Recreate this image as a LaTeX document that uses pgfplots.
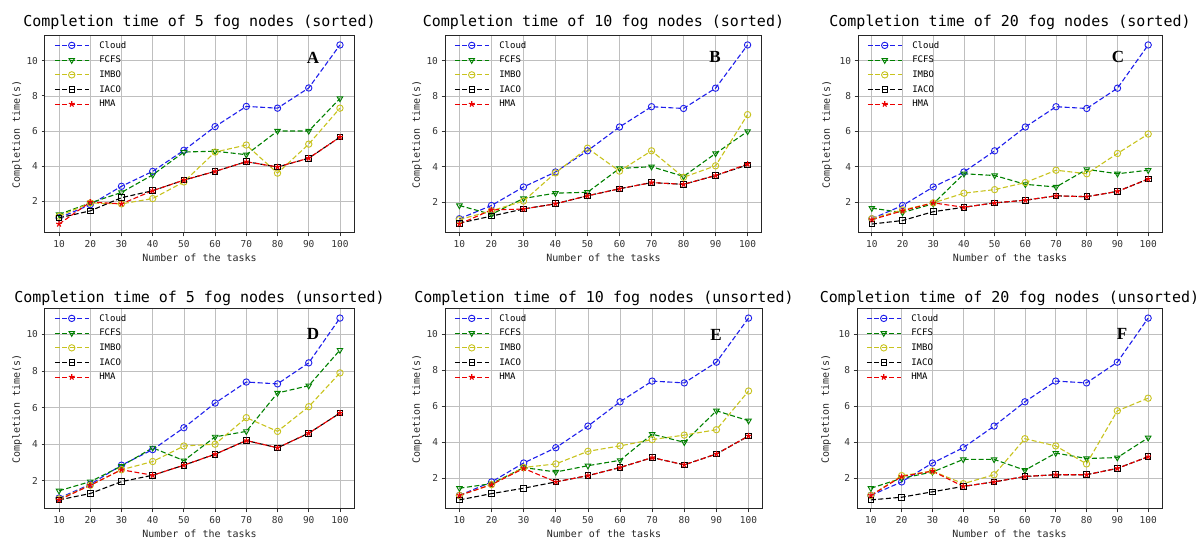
\documentclass[border=0pt]{standalone}
\usepackage{fontspec}
\usepackage{pgfplots}
\usepackage{pgfplotstable}
\pgfplotsset{compat=1.18}
\newfontfamily\mono{DejaVu Sans Mono}
\newfontfamily\lettr{Liberation Serif}

\definecolor{cloudc}{RGB}{30,30,235}
\definecolor{fcfsc}{RGB}{0,128,0}
\definecolor{imboc}{RGB}{200,195,30}
\definecolor{hmac}{RGB}{235,0,0}

% x cloud fcfs imbo iaco hma
\pgfplotstableread{
x cloud fcfs imbo iaco hma
10 1.05 1.25 1.15 1.05 0.70
20 1.80 1.90 1.90 1.45 1.95
30 2.85 2.50 1.85 2.20 1.85
40 3.70 3.50 2.15 2.60 2.60
50 4.90 4.80 3.10 3.20 3.20
60 6.25 4.85 4.80 3.70 3.70
70 7.40 4.65 5.20 4.25 4.25
80 7.30 6.00 3.60 3.95 3.95
90 8.45 6.00 5.25 4.45 4.45
100 10.90 7.85 7.30 5.65 5.65
}\tabA
\pgfplotstableread{
x cloud fcfs imbo iaco hma
10 1.05 1.80 1.00 0.80 0.75
20 1.80 1.30 1.50 1.20 1.55
30 2.85 2.20 2.05 1.60 1.60
40 3.70 2.50 3.65 1.90 1.90
50 4.90 2.55 5.05 2.35 2.35
60 6.25 3.90 3.75 2.75 2.75
70 7.40 4.00 4.90 3.10 3.10
80 7.30 3.45 3.40 3.00 3.00
90 8.45 4.75 4.05 3.50 3.50
100 10.90 6.00 6.95 4.10 4.15
}\tabB
\pgfplotstableread{
x cloud fcfs imbo iaco hma
10 1.05 1.65 1.05 0.75 1.00
20 1.80 1.40 1.55 0.95 1.50
30 2.85 1.90 1.95 1.45 1.95
40 3.70 3.60 2.50 1.70 1.70
50 4.90 3.50 2.70 1.95 1.95
60 6.25 3.00 3.10 2.10 2.10
70 7.40 2.85 3.80 2.35 2.35
80 7.30 3.85 3.60 2.30 2.30
90 8.45 3.60 4.75 2.60 2.60
100 10.90 3.80 5.85 3.30 3.30
}\tabC
\pgfplotstableread{
x cloud fcfs imbo iaco hma
10 1.05 1.45 1.00 0.95 0.95
20 1.80 1.95 1.75 1.30 1.75
30 2.85 2.80 2.60 1.95 2.60
40 3.70 3.80 3.05 2.30 2.30
50 4.90 3.10 3.90 2.85 2.85
60 6.25 4.40 4.00 3.45 3.45
70 7.40 4.70 5.45 4.20 4.20
80 7.30 6.80 4.70 3.80 3.80
90 8.45 7.20 6.05 4.60 4.60
100 10.90 9.15 7.90 5.70 5.70
}\tabD
\pgfplotstableread{
x cloud fcfs imbo iaco hma
10 1.05 1.45 1.05 0.80 1.05
20 1.80 1.70 1.65 1.15 1.65
30 2.85 2.60 2.60 1.45 2.55
40 3.70 2.35 2.80 1.80 1.80
50 4.90 2.70 3.50 2.15 2.15
60 6.25 3.00 3.80 2.60 2.60
70 7.40 4.45 4.15 3.15 3.15
80 7.30 4.00 4.40 2.75 2.75
90 8.45 5.75 4.70 3.35 3.35
100 10.90 5.20 6.85 4.35 4.35
}\tabE
\pgfplotstableread{
x cloud fcfs imbo iaco hma
10 1.05 1.45 1.05 0.80 1.05
20 1.80 2.00 2.15 0.95 2.10
30 2.85 2.35 2.40 1.25 2.40
40 3.70 3.05 1.70 1.55 1.55
50 4.90 3.05 2.20 1.80 1.80
60 6.25 2.45 4.20 2.10 2.10
70 7.40 3.40 3.80 2.20 2.20
80 7.30 3.10 2.80 2.20 2.20
90 8.45 3.15 5.75 2.55 2.55
100 10.90 4.25 6.45 3.20 3.20
}\tabF

\pgfplotsset{
  panel/.style={
    scale only axis, anchor=south west,
    xmin=5.5, xmax=104.5, enlarge y limits=0.05,
    xtick={10,20,...,100}, ytick={2,4,6,8,10},
    tick align=outside, tick pos=left, major tick length=3.5pt,
    tick style={black!80, line width=0.8pt},
    grid=major, major grid style={black!25, line width=0.7pt},
    axis line style={black!85, line width=1pt},
    /pgf/number format/assume math mode=true,
    tick label style={font=\mono\fontsize{9.5}{10}\selectfont, text=black!80},
    xlabel={Number of the tasks}, ylabel={Completion time(s)},
    label style={font=\mono\fontsize{10}{11}\selectfont, text=black!85},
    xlabel style={at={([yshift=-25pt]axis description cs:0.5,0)}, anchor=center},
    ylabel style={at={([xshift=-28pt]axis description cs:0,0.5)}, anchor=center},
    every axis title shift=0pt,
    title style={font=\mono\fontsize{15}{16}\selectfont, at={([yshift=14pt]axis description cs:0.5,1)}, anchor=center},
    legend style={at={([xshift=6pt,yshift=-1pt]axis description cs:0,1)}, anchor=north west,
      draw=none, fill=none, font=\mono\fontsize{9}{10}\selectfont, row sep=2.5pt},
    legend cell align=left,
    legend image code/.code={\draw[mark repeat=2,mark phase=2,##1] plot coordinates {(0pt,0pt) (17pt,0pt) (34pt,0pt)}; \path (42pt,0pt);},
  },
  ser/.style={line width=1.1pt, dash pattern=on 5pt off 2.5pt, mark size=3.2pt},
  cloudst/.style={ser, color=cloudc, mark=o, mark options={solid, fill=white, line width=0.9pt}},
  fcfsst/.style={ser, color=fcfsc, mark=triangle, mark options={solid, rotate=180, fill=white, line width=0.9pt}},
  imbost/.style={ser, color=imboc, mark=o, mark options={solid, fill=white, line width=0.9pt}},
  iacost/.style={ser, color=black, mark=square, mark size=2.8pt, mark options={solid, fill=white, line width=0.9pt}},
  hmast/.style={ser, color=hmac, mark=star, mark size=3pt, mark options={solid, line width=1.1pt}},
}

\newcommand\series[1]{%
  \addplot[cloudst] table[x=x,y=cloud]{#1};
  \addplot[fcfsst] table[x=x,y=fcfs]{#1};
  \addplot[imbost] table[x=x,y=imbo]{#1};
  \addplot[iacost] table[x=x,y=iaco]{#1};
  \addplot[hmast] table[x=x,y=hma]{#1};
  \legend{Cloud,FCFS,IMBO,IACO,HMA}
}

\begin{document}
\begin{tikzpicture}
\useasboundingbox (0,0) rectangle (1203pt,543pt);

\begin{axis}[panel, at={(45pt,310pt)}, width=309pt, height=197pt,
  title={Completion time of 5 fog nodes (sorted)}]
\series{\tabA}
\node[font=\lettr\bfseries\fontsize{17}{17}\selectfont] at (rel axis cs:0.867,0.888) {A};
\end{axis}

\begin{axis}[panel, at={(445pt,310pt)}, width=317pt, height=197pt,
  title={Completion time of 10 fog nodes (sorted)}]
\series{\tabB}
\node[font=\lettr\bfseries\fontsize{17}{17}\selectfont] at (rel axis cs:0.852,0.893) {B};
\end{axis}

\begin{axis}[panel, at={(858pt,310pt)}, width=304pt, height=197pt,
  title={Completion time of 20 fog nodes (sorted)},
  ylabel style={at={([xshift=-31pt]axis description cs:0,0.5)}}]
\series{\tabC}
\node[font=\lettr\bfseries\fontsize{17}{17}\selectfont] at (rel axis cs:0.855,0.893) {C};
\end{axis}

\begin{axis}[panel, at={(45pt,34pt)}, width=309pt, height=200pt,
  title={Completion time of 5 fog nodes (unsorted)},
  title style={at={([yshift=10.5pt]axis description cs:0.5,1)}}]
\series{\tabD}
\node[font=\lettr\bfseries\fontsize{17}{17}\selectfont] at (rel axis cs:0.867,0.875) {D};
\end{axis}

\begin{axis}[panel, at={(445pt,34pt)}, width=318pt, height=200pt,
  title={Completion time of 10 fog nodes (unsorted)},
  title style={at={([yshift=10.5pt]axis description cs:0.5,1)}}]
\series{\tabE}
\node[font=\lettr\bfseries\fontsize{17}{17}\selectfont] at (rel axis cs:0.852,0.87) {E};
\end{axis}

\begin{axis}[panel, at={(857pt,34pt)}, width=305pt, height=200pt,
  title={Completion time of 20 fog nodes (unsorted)},
  title style={at={([yshift=10.5pt]axis description cs:0.5,1)}},
  ylabel style={at={([xshift=-31pt]axis description cs:0,0.5)}}]
\series{\tabF}
\node[font=\lettr\bfseries\fontsize{17}{17}\selectfont] at (rel axis cs:0.869,0.875) {F};
\end{axis}
\end{tikzpicture}
\end{document}
